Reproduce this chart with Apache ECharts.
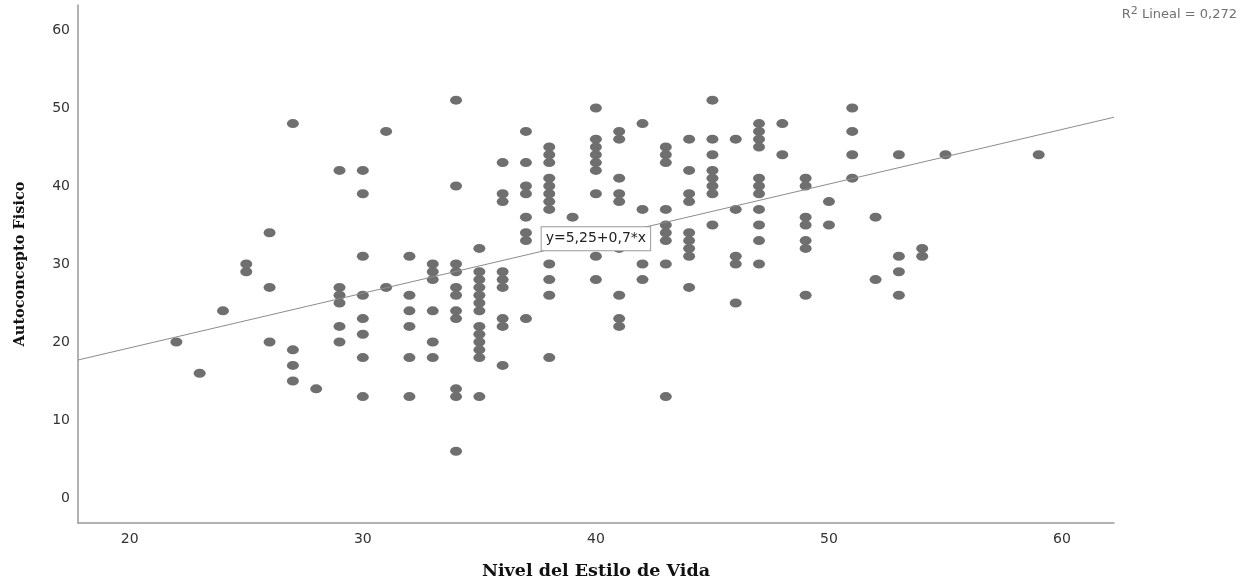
<!DOCTYPE html>
<html>
<head>
<meta charset="utf-8">
<script src="https://cdn.jsdelivr.net/npm/echarts@6/dist/echarts.min.js"></script>
<style>
  html, body { margin: 0; padding: 0; background: #fff; }
  #main { width: 1254px; height: 585px; }
</style>
</head>
<body>
<div id="main"></div>
<script>
// Nivel del Estilo de Vida -> valores de Autoconcepto Fisico
var xLevels = [22, 23, 24, 25, 26, 27, 28, 29, 30, 31, 32, 33, 34, 35, 36, 37, 38, 39,
               40, 41, 42, 43, 44, 45, 46, 47, 48, 49, 50, 51, 52, 53, 54, 55, 59];
var yByLevel = [
  [20], [16], [24], [30, 29], [34, 27, 20], [48, 19, 17, 15], [14],
  [42, 27, 26, 25, 22, 20],
  [42, 39, 31, 26, 23, 21, 18, 13],
  [47, 27],
  [31, 26, 24, 22, 18, 13],
  [30, 29, 28, 24, 20, 18],
  [51, 40, 30, 29, 27, 26, 24, 23, 14, 13, 6],
  [32, 29, 28, 27, 26, 25, 24, 22, 21, 20, 19, 18, 13],
  [43, 39, 38, 29, 28, 27, 23, 22, 17],
  [47, 43, 40, 39, 36, 34, 33, 23],
  [45, 44, 43, 41, 40, 39, 38, 37, 30, 28, 26, 18],
  [36],
  [50, 46, 45, 44, 43, 42, 39, 31, 28],
  [47, 46, 41, 39, 38, 32, 26, 23, 22],
  [48, 37, 30, 28],
  [45, 44, 43, 37, 35, 34, 33, 30, 13],
  [46, 42, 39, 38, 34, 33, 32, 31, 27],
  [51, 46, 44, 42, 41, 40, 39, 35],
  [46, 37, 31, 30, 25],
  [48, 47, 46, 45, 41, 40, 39, 37, 35, 33, 30],
  [48, 44],
  [41, 40, 36, 35, 33, 32, 26],
  [38, 35],
  [50, 47, 44, 41],
  [36, 28],
  [44, 31, 29, 26],
  [32, 31],
  [44],
  [44]
];
var xTicks = [20, 30, 40, 50, 60];
var yTicks = [0, 10, 20, 30, 40, 50, 60];

// recta de ajuste y = 5,25 + 0,7*x
var intercept = 5.25;
var slope = 0.7;
var xMin = 17.78, xMax = 62.23;
var yMin = -3.2, yMax = 63.2;

var points = [];
for (var i = 0; i < xLevels.length; i++) {
  for (var j = 0; j < yByLevel[i].length; j++) {
    points.push([xLevels[i], yByLevel[i][j]]);
  }
}
var fitLine = [[xMin, intercept + slope * xMin], [xMax, intercept + slope * xMax]];

var myChart = echarts.init(document.getElementById('main'));
myChart.setOption({
  animation: false,
  backgroundColor: '#fff',
  grid: { left: 78, right: 140, top: 5, bottom: 62, outerBoundsMode: 'none', containLabel: false },
  graphic: [{
    type: 'text',
    right: 17,
    top: 6,
    style: {
      text: '{n|R}{s|2}{n| Lineal = 0,272}',
      rich: {
        n: { font: '13px "DejaVu Sans", sans-serif', fill: '#707070', color: '#707070', verticalAlign: 'bottom' },
        s: { font: '11px "DejaVu Sans", sans-serif', fill: '#707070', color: '#707070', verticalAlign: 'top', padding: [0, 0, 4, 0] }
      }
    }
  }],
  xAxis: {
    type: 'value',
    min: xMin,
    max: xMax,
    name: 'Nivel del Estilo de Vida',
    nameLocation: 'middle',
    nameGap: 39,
    nameTextStyle: { fontFamily: 'DejaVu Serif', fontWeight: 'bold', fontSize: 17.5, color: '#111' },
    axisLine: { show: true, onZero: false, lineStyle: { color: '#9a9a9a', width: 1.5 } },
    axisTick: { show: false },
    splitLine: { show: false },
    axisLabel: {
      customValues: xTicks,
      margin: 9,
      fontFamily: 'DejaVu Sans',
      fontSize: 14,
      color: '#333'
    }
  },
  yAxis: {
    type: 'value',
    min: yMin,
    max: yMax,
    name: 'Autoconcepto Fisico',
    nameLocation: 'middle',
    nameGap: 50,
    nameTextStyle: { fontFamily: 'DejaVu Serif', fontWeight: 'bold', fontSize: 14.5, color: '#111' },
    axisLine: { show: true, onZero: false, lineStyle: { color: '#9a9a9a', width: 1.5 } },
    axisTick: { show: false },
    splitLine: { show: false },
    axisLabel: {
      customValues: yTicks,
      margin: 8,
      fontFamily: 'DejaVu Sans',
      fontSize: 14,
      color: '#333'
    }
  },
  series: [
    {
      type: 'scatter',
      data: points,
      symbol: 'circle',
      symbolSize: [12, 9],
      itemStyle: { color: '#6f6f6f', opacity: 1 },
      z: 2
    },
    {
      type: 'line',
      data: fitLine,
      symbol: 'none',
      lineStyle: { color: '#8c8c8c', width: 1 },
      z: 3,
      markPoint: {
        symbol: 'rect',
        symbolSize: 0,
        data: [{ coord: [40, intercept + slope * 40] }],
        label: {
          show: true,
          position: 'inside',
          formatter: 'y=5,25+0,7*x',
          backgroundColor: '#fff',
          borderColor: '#9a9a9a',
          borderWidth: 1,
          padding: [5, 4, 4, 4],
          fontFamily: 'DejaVu Sans',
          fontSize: 14,
          color: '#222'
        }
      }
    }
  ]
});
</script>
</body>
</html>
